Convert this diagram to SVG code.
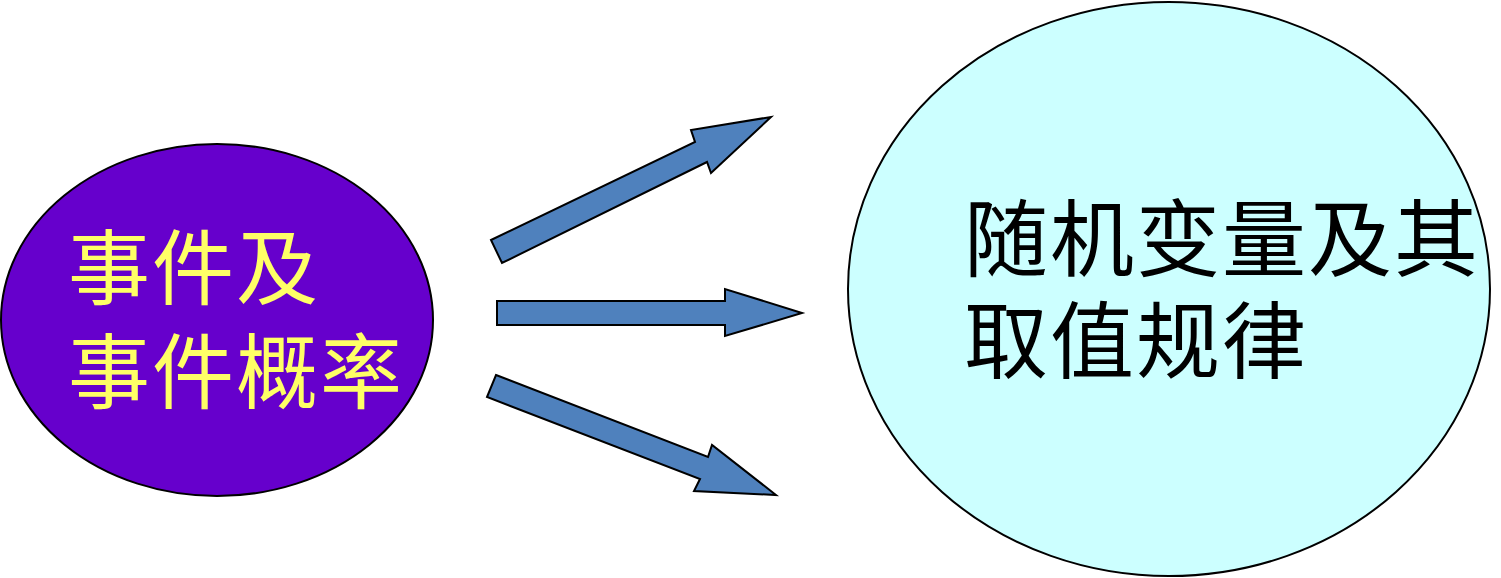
<svg xmlns="http://www.w3.org/2000/svg" width="1501" height="578" viewBox="0 0 1501 578">
<style>
.arrow{fill:#4F81BD;stroke:#000;stroke-width:2;stroke-linejoin:miter}
.t{font-family:"Noto Sans CJK SC","Noto Sans CJK JP",sans-serif;font-size:82px;letter-spacing:2px}
</style>
<rect width="1501" height="578" fill="#fff"/>
<g id="node-left">
<ellipse cx="217" cy="320" rx="216" ry="176" fill="#6600CC" stroke="#000" stroke-width="2"/>
<text class="t" fill="#FFFF66" x="68" y="298">事件及</text>
<text class="t" fill="#FFFF66" x="68" y="402">事件概率</text>
</g>
<g id="node-right">
<ellipse cx="1169" cy="289" rx="321" ry="287" fill="#CCFFFF" stroke="#000" stroke-width="2"/>
<text class="t" fill="#000" x="964" y="270" style="font-size:84px">随机变量及其</text>
<text class="t" fill="#000" x="964" y="372" style="font-size:84px">取值规律</text>
</g>
<g id="connectors">
<polygon class="arrow" points="491,240 695,142 691,130 771,117 711,173 707,162 502,263"/>
<polygon class="arrow" points="497,301 725,301 725,289 802,313 725,336 725,325 497,325"/>
<polygon class="arrow" points="496,375 708,457 712,445 776,495 694,491 700,479 487,397"/>
</g>
</svg>
